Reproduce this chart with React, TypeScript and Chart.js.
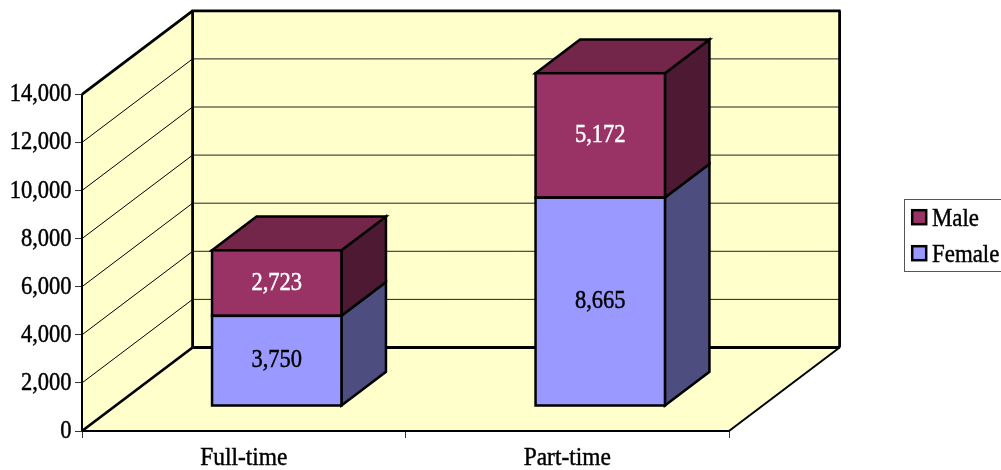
import React, { useEffect, useRef } from "react";
import { Chart, registerables } from "chart.js";

Chart.register(...registerables);

const categories = ["Full-time", "Part-time"];
const femaleValues = [3750, 8665];
const maleValues = [2723, 5172];
const seriesNames = ["Female", "Male"];
const frontColors = ["#9999FF", "#993366"];
const sideColors = ["#4D4D80", "#4D1933"];
const topColor = "#732649";
const wallColor = "#FFFFCC";

const DEPTH = { x: 110.6, y: -83.5 };
const BAR_OFFSET = { x: 33, y: -25 };
const BAR_DEPTH = { x: 44.5, y: -33.7 };
const FONT = '"Liberation Serif", serif';

const fmt = (v: number) => v.toLocaleString("en-US");

function text(ctx: any, s: string, x: number, y: number, align: string, size: number, color = "#000", squeeze = 0.9) {
  ctx.save();
  ctx.translate(x, y);
  ctx.scale(squeeze, 1);
  ctx.font = `${size}px ${FONT}`;
  ctx.fillStyle = color;
  ctx.strokeStyle = color;
  ctx.lineWidth = 0.45;
  ctx.textAlign = align;
  ctx.textBaseline = "alphabetic";
  ctx.fillText(s, 0, 0);
  ctx.strokeText(s, 0, 0);
  ctx.restore();
}

function poly(ctx: any, pts: number[][], fill: string | null, stroke: string | null, lw = 2) {
  ctx.beginPath();
  pts.forEach((p, i) => (i ? ctx.lineTo(p[0], p[1]) : ctx.moveTo(p[0], p[1])));
  ctx.closePath();
  if (fill) {
    ctx.fillStyle = fill;
    ctx.fill();
  }
  if (stroke) {
    ctx.strokeStyle = stroke;
    ctx.lineWidth = lw;
    ctx.lineJoin = "miter";
    ctx.stroke();
  }
}

function line(ctx: any, a: number[], b: number[], lw: number, color = "#000") {
  ctx.beginPath();
  ctx.moveTo(a[0], a[1]);
  ctx.lineTo(b[0], b[1]);
  ctx.strokeStyle = color;
  ctx.lineWidth = lw;
  ctx.stroke();
}

const plot3d = {
  id: "plot3d",
  beforeDatasetsDraw(chart: any) {
    const { ctx, chartArea: a, scales } = chart;
    const d = DEPTH;
    ctx.save();
    // walls and floor
    poly(ctx, [[a.left, a.top], [a.left + d.x, a.top + d.y], [a.left + d.x, a.bottom + d.y], [a.left, a.bottom]], wallColor, null);
    poly(ctx, [[a.left + d.x, a.top + d.y], [a.right + d.x, a.top + d.y], [a.right + d.x, a.bottom + d.y], [a.left + d.x, a.bottom + d.y]], wallColor, null);
    poly(ctx, [[a.left, a.bottom], [a.right, a.bottom], [a.right + d.x, a.bottom + d.y], [a.left + d.x, a.bottom + d.y]], wallColor, null);
    // grid lines, from the value scale
    scales.y.ticks.forEach((t: any) => {
      if (t.value === 0 || t.value === scales.y.max) return;
      const y = scales.y.getPixelForValue(t.value);
      line(ctx, [a.left, y], [a.left + d.x, y + d.y], 1);
      line(ctx, [a.left + d.x, y + d.y], [a.right + d.x, y + d.y], 1, "#222");
    });
    // frame
    line(ctx, [a.left, a.top], [a.left, a.bottom], 2);
    line(ctx, [a.left, a.top], [a.left + d.x, a.top + d.y], 2.8);
    line(ctx, [a.left + d.x, a.top + d.y], [a.left + d.x, a.bottom + d.y], 2.8);
    line(ctx, [a.left + d.x - 1, a.top + d.y], [a.right + d.x + 1, a.top + d.y], 2.8);
    line(ctx, [a.right + d.x, a.top + d.y], [a.right + d.x, a.bottom + d.y], 2.8);
    line(ctx, [a.left, a.bottom], [a.left + d.x, a.bottom + d.y], 2.8);
    line(ctx, [a.left + d.x, a.bottom + d.y], [a.right + d.x, a.bottom + d.y], 2.8);
    line(ctx, [a.left, a.bottom], [a.right, a.bottom], 2);
    line(ctx, [a.right, a.bottom], [a.right + d.x, a.bottom + d.y], 2);

    // the bars stand inside the box: shift them, then draw sides and top
    ctx.translate(BAR_OFFSET.x, BAR_OFFSET.y);
    const b = BAR_DEPTH;
    chart.data.datasets.forEach((_: any, di: number) => {
      chart.getDatasetMeta(di).data.forEach((bar: any) => {
        const r = bar.x + bar.width / 2;
        poly(ctx, [[r, bar.y], [r + b.x, bar.y + b.y], [r + b.x, bar.base + b.y], [r, bar.base]], sideColors[di], "#000", 2.5);
        if (di === chart.data.datasets.length - 1) {
          const l = bar.x - bar.width / 2;
          poly(ctx, [[l, bar.y], [l + b.x, bar.y + b.y], [r + b.x, bar.y + b.y], [r, bar.y]], topColor, "#000", 2.5);
        }
      });
    });
  },
  afterDatasetsDraw(chart: any) {
    const { ctx, scales } = chart;
    // outlines of the front faces, centred on the value positions
    chart.data.datasets.forEach((_: any, di: number) => {
      chart.getDatasetMeta(di).data.forEach((bar: any) => {
        ctx.strokeStyle = "#000";
        ctx.lineWidth = 2.5;
        ctx.strokeRect(bar.x - bar.width / 2, bar.y, bar.width, bar.base - bar.y);
      });
    });
    ctx.restore();
    // value labels
    chart.data.datasets.forEach((ds: any, di: number) => {
      chart.getDatasetMeta(di).data.forEach((bar: any, i: number) => {
        text(ctx, fmt(ds.data[i]), bar.x + BAR_OFFSET.x, (bar.y + bar.base) / 2 + BAR_OFFSET.y + 6.5, "center", 25, di === 1 ? "#FFFFFF" : "#000000");
      });
    });
    // axis labels
    scales.y.ticks.forEach((t: any) => {
      text(ctx, fmt(t.value), 71.5, scales.y.getPixelForValue(t.value) + 7, "right", 25);
    });
    categories.forEach((c, i) => {
      text(ctx, c, scales.x.getPixelForValue(i), 465, "center", 26);
    });
    // legend
    ctx.save();
    ctx.strokeStyle = "#555";
    ctx.lineWidth = 1;
    ctx.strokeRect(904.5, 199.5, 100, 72);
    const rows = [1, 0];
    rows.forEach((di, row) => {
      const y = row === 0 ? 209 : 245;
      ctx.fillStyle = frontColors[di];
      ctx.fillRect(912.2, y + 1.2, 14, 14);
      ctx.strokeStyle = "#000";
      ctx.lineWidth = 2.5;
      ctx.strokeRect(912.2, y + 1.2, 14, 14);
      text(ctx, seriesNames[di], 932, y + 17, "left", 26, "#000", 0.88);
    });
    ctx.restore();
  },
};

export default function App() {
  const ref = useRef<HTMLCanvasElement>(null);
  useEffect(() => {
    const chart = new Chart(ref.current!, {
      type: "bar",
      data: {
        labels: categories,
        datasets: [
          { label: seriesNames[0], data: femaleValues, backgroundColor: frontColors[0], borderWidth: 0, clip: false } as any,
          { label: seriesNames[1], data: maleValues, backgroundColor: frontColors[1], borderWidth: 0, clip: false } as any,
        ],
      },
      options: {
        responsive: false,
        animation: false,
        devicePixelRatio: 1,
        layout: { padding: { left: 0, top: 94.3, right: 272, bottom: 0 } },
        datasets: { bar: { barPercentage: 0.4, categoryPercentage: 1 } },
        plugins: { legend: { display: false }, tooltip: { enabled: false }, title: { display: false } },
        scales: {
          x: {
            stacked: true,
            afterFit: (s: any) => { s.height = 39; },
            border: { display: false },
            grid: { drawOnChartArea: false, drawTicks: true, tickLength: 7, tickColor: "#333", offset: true },
            ticks: { display: false },
          },
          y: {
            stacked: true,
            min: 0,
            max: 14000,
            afterFit: (s: any) => { s.width = 82; },
            border: { display: false },
            grid: { drawOnChartArea: false, drawTicks: true, tickLength: 7, tickColor: "#333" },
            ticks: { display: false, stepSize: 2000 },
          },
        },
      } as any,
      plugins: [plot3d],
    });
    return () => chart.destroy();
  }, []);
  return (
    <div style={{ position: "fixed", left: 0, top: 0, width: 1001, height: 470, background: "#fff" }}>
      <canvas ref={ref} width={1001} height={470} style={{ display: "block" }} />
    </div>
  );
}
